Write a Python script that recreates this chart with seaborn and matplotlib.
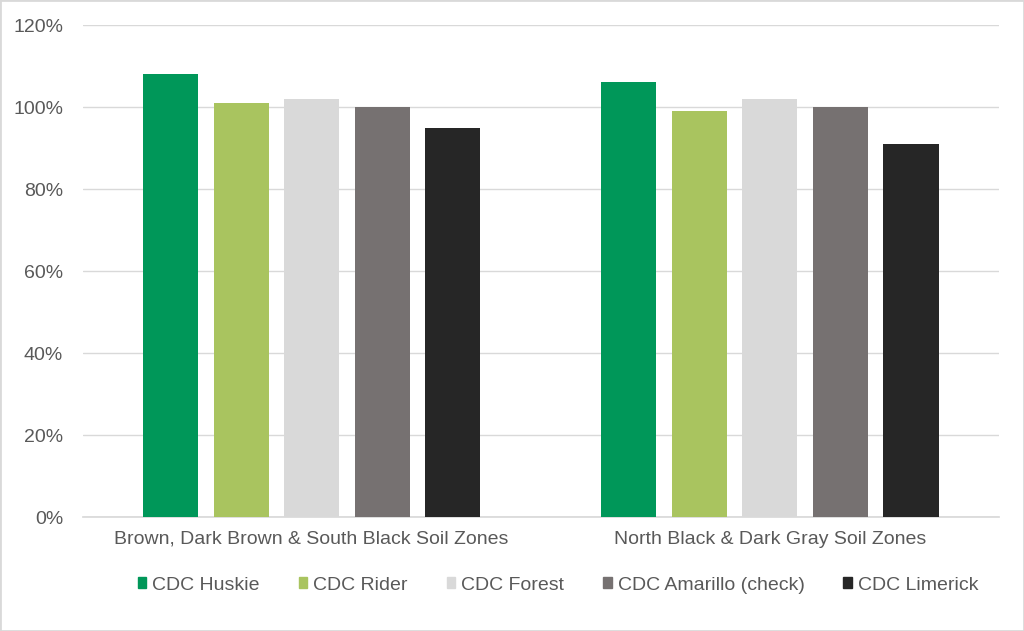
import pandas as pd
import matplotlib
matplotlib.use("Agg")
import matplotlib.pyplot as plt
import matplotlib.patches as mpatches
import seaborn as sns

zones = ["Brown, Dark Brown & South Black Soil Zones",
         "North Black & Dark Gray Soil Zones"]
varieties = ["CDC Huskie", "CDC Rider", "CDC Forest",
             "CDC Amarillo (check)", "CDC Limerick"]
huskie = [108, 106]
rider = [101, 99]
forest = [102, 102]
amarillo = [100, 100]
limerick = [95, 91]
colors = ["#009759", "#a9c45f", "#d9d9d9", "#767171", "#262626"]
yticks = [0, 20, 40, 60, 80, 100, 120]

rows = []
for name, vals in zip(varieties, [huskie, rider, forest, amarillo, limerick]):
    for z, v in zip(zones, vals):
        rows.append({"zone": z, "variety": name, "value": v})
df = pd.DataFrame(rows)

sns.set_theme(style="white")
plt.rcParams["font.family"] = ["Liberation Sans", "DejaVu Sans"]
text_color = "#595959"

fig = plt.figure(figsize=(10.24, 6.31), dpi=100)
ax = fig.add_axes([82.5 / 1024, 1 - 517 / 631, (999 - 82.5) / 1024, (517 - 25) / 631])

sns.barplot(data=df, x="zone", y="value", hue="variety", hue_order=varieties,
            order=zones, palette=colors, saturation=1, width=0.77, gap=0.22, ax=ax,
            edgecolor="none", linewidth=0, legend=False, zorder=3)

ax.set_ylim(0, 120)
ax.set_yticks(yticks)
ax.set_yticklabels([f"{t}%" for t in yticks])
ax.yaxis.grid(True, color="#d9d9d9", linewidth=1, zorder=0)
ax.set_axisbelow(True)
for s in ["top", "right", "left"]:
    ax.spines[s].set_visible(False)
ax.spines["bottom"].set_color("#d9d9d9")
ax.set_xlabel("")
ax.set_ylabel("")
ax.tick_params(axis="both", length=0, labelsize=14, colors=text_color, pad=10)
ax.tick_params(axis="y", pad=14)

handles = [mpatches.Patch(color=c, label=v) for c, v in zip(colors, varieties)]
leg = fig.legend(handles=handles, loc="center", bbox_to_anchor=(0.545, 1 - 585 / 631),
                 ncol=5, frameon=False, fontsize=14, handlelength=0.45,
                 handleheight=0.45, handletextpad=0.3, columnspacing=2.0)
for t in leg.get_texts():
    t.set_color(text_color)

fig.patches.append(mpatches.Rectangle((0, 0), 1, 1, transform=fig.transFigure,
                                      fill=False, edgecolor="#d9d9d9", linewidth=2))

fig.savefig("out.png", dpi=100)
